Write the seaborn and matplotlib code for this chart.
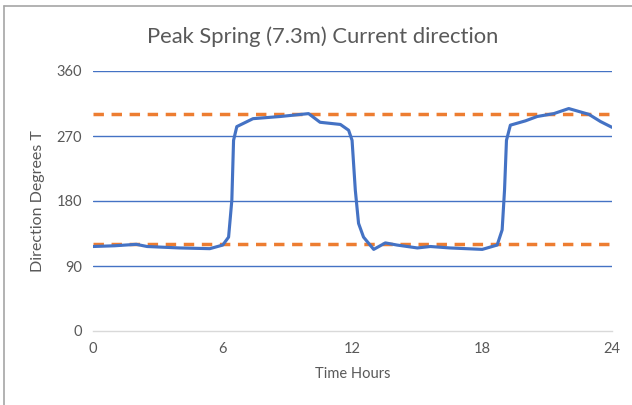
import matplotlib
matplotlib.use('Agg')
import matplotlib.pyplot as plt
import seaborn as sns
import pandas as pd
from matplotlib.lines import Line2D

# データ
hours = [0.0, 1.0, 2.0, 2.5, 4.0, 5.4, 6.0, 6.27, 6.42, 6.5, 6.65, 7.4, 8.66,
         9.97, 10.5, 11.44, 11.82, 11.98, 12.13, 12.28, 12.51, 12.98, 13.52,
         14.06, 15.0, 15.6, 16.5, 18.0, 18.69, 18.92, 19.03, 19.12, 19.3,
         20.0, 20.54, 21.31, 22.0, 22.93, 23.47, 24.0]
direction = [117, 118, 120, 117, 115, 114, 119, 130, 181, 264, 283, 294, 297,
             301, 289, 286, 278, 264, 195, 149, 130, 113, 122,
             119, 115, 117, 115, 113, 119, 140, 195, 264, 285,
             291, 297, 301, 308, 300, 290, 282]
ref_levels = [120, 300]
x_ticks = [0, 6, 12, 18, 24]
y_ticks = [0, 90, 180, 270, 360]

df = pd.DataFrame({'Time Hours': hours, 'Direction': direction})

sns.set_style('white')
plt.rcParams['font.family'] = ['Lato', 'DejaVu Sans']

blue = '#4472C4'
orange = '#ED7D31'
gray = '#595959'

fig = plt.figure(figsize=(6.32, 4.05), dpi=100)
ax = fig.add_axes([93 / 632, 1 - 331 / 405, (612 - 93) / 632, (331 - 71) / 405])

# グリッド線（青）
for y in y_ticks[1:]:
    ax.axhline(y, color=blue, lw=1.0, zorder=1)

# 基準線（オレンジの破線）
for lvl in ref_levels:
    ax.axhline(lvl, color=orange, lw=2.5, ls=(0, (3, 2.2)), zorder=2)

sns.lineplot(data=df, x='Time Hours', y='Direction', color=blue, lw=2.25,
             ax=ax, zorder=3)

ax.set_xlim(0, 24)
ax.set_ylim(0, 360)
ax.set_xticks(x_ticks)
ax.set_yticks(y_ticks)
ax.tick_params(length=0, labelsize=10.5, colors=gray, pad=8)
for s in ['top', 'right', 'left']:
    ax.spines[s].set_visible(False)
ax.spines['bottom'].set_color('#D9D9D9')
ax.spines['bottom'].set_linewidth(1)

ax.set_xlabel('Time Hours', fontsize=10.5, color=gray, labelpad=8)
ax.set_ylabel('Direction Degrees T', fontsize=11.5, color=gray, labelpad=8)

fig.text(323 / 632, 1 - 37 / 405, 'Peak Spring (7.3m) Current direction',
         ha='center', va='center', fontsize=15.8, color=gray)

# グラフ枠（上と左のみ見える）
fig.add_artist(Line2D([4 / 632, 1], [1 - 6 / 405, 1 - 6 / 405],
                      transform=fig.transFigure, color='#A6A6A6', lw=1.2))
fig.add_artist(Line2D([4 / 632, 4 / 632], [0, 1 - 6 / 405],
                      transform=fig.transFigure, color='#A6A6A6', lw=1.2))

fig.savefig('out.png', dpi=100)
